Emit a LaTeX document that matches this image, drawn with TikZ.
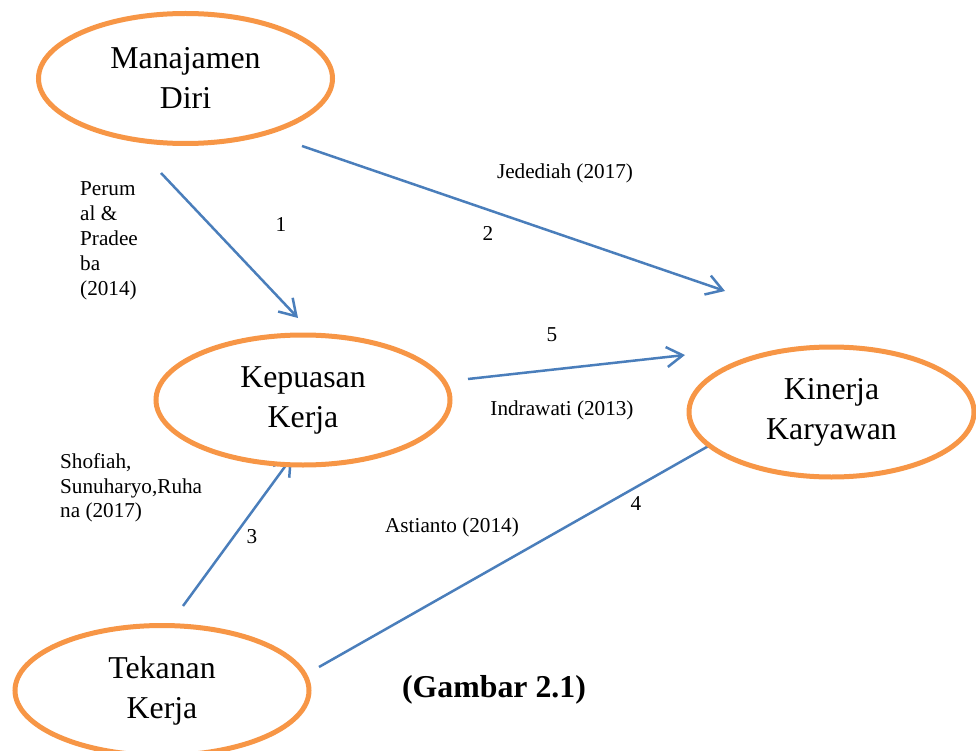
\documentclass[tikz,border=0pt]{standalone}
\usepackage{fontspec}
\setmainfont{Liberation Serif}
\usepackage{tikz}
\usetikzlibrary{shapes.geometric,arrows.meta,positioning,calc}
\definecolor{varorange}{RGB}{247,150,70}
\definecolor{linkblue}{RGB}{74,126,187}
\pgfdeclarelayer{background}
\pgfsetlayers{background,main}

\begin{document}
\begin{tikzpicture}[x=1pt, y=-1pt,
    var/.style={ellipse, draw=varorange, line width=5pt, fill=white, minimum width=294pt, minimum height=130pt, inner sep=0pt, align=center, font=\fontsize{31.8}{40}\selectfont},
    plainlink/.style={draw=linkblue, line width=2.5pt},
    link/.style={plainlink, -{Straight Barb[length=16pt,width=20pt]}},
    cite/.style={inner sep=0pt, align=left, font=\fontsize{21.2}{25}\selectfont},
    num/.style={inner sep=0pt, font=\fontsize{21.2}{25}\selectfont}
]
\useasboundingbox (0,0) rectangle (976,751);
\clip (0,0) rectangle (976,751);

% variables
\node[var] (manajamen) at (185.5,78.5) {Manajamen\\Diri};
\node[var] (kepuasan) at (303,400) {Kepuasan\\Kerja};
\node[var, minimum width=285pt] (kinerja) at (831.5,412) {Kinerja\\Karyawan};
\node[var] (tekanan) at (162,690.5) {Tekanan\\Kerja};

% arrow ends
\coordinate (p1s) at (161,173);
\coordinate (p1e) at (298,318);
\coordinate (p2s) at (302,146);
\coordinate (p2e) at (725,291);
\coordinate (p5s) at (468,379);
\coordinate (p5e) at (685,355);
\coordinate (p3s) at (183,606);
\coordinate (p3e) at (292,457);
\coordinate (p4s) at (319,667);
\coordinate (p4e) at (712,444);

\begin{pgfonlayer}{background}
\draw[link] (p1s) -- (p1e);
\draw[link] (p2s) -- (p2e);
\draw[link] (p5s) -- (p5e);
\draw[link] (p3s) -- (p3e);
\draw[plainlink] (p4s) -- (p4e);
\end{pgfonlayer}

% labels
\node[cite, anchor=west] (perumal) at (80,241) {Perum\\al \&\\Pradee\\ba\\(2014)};
\node[num] (n1) at (281,225) {1};
\node[num] (n2) at (488,233) {2};
\node[cite] (jedediah) at (565,173) {Jedediah (2017)};
\node[num] (n5) at (552,335) {5};
\node[cite] (indrawati) at (562,410) {Indrawati (2013)};
\node[cite, anchor=west, font=\fontsize{21.2}{24.5}\selectfont] (shofiah) at (60,488) {Shofiah,\\Sunuharyo,Ruha\\na (2017)};
\node[num] (n3) at (252,537) {3};
\node[cite] (astianto) at (452,527) {Astianto (2014)};
\node[num] (n4) at (636,504) {4};

\node[inner sep=0pt, font=\fontsize{31.8}{40}\selectfont\bfseries] (gambar) at (494,690) {(Gambar 2.1)};

\end{tikzpicture}
\end{document}
